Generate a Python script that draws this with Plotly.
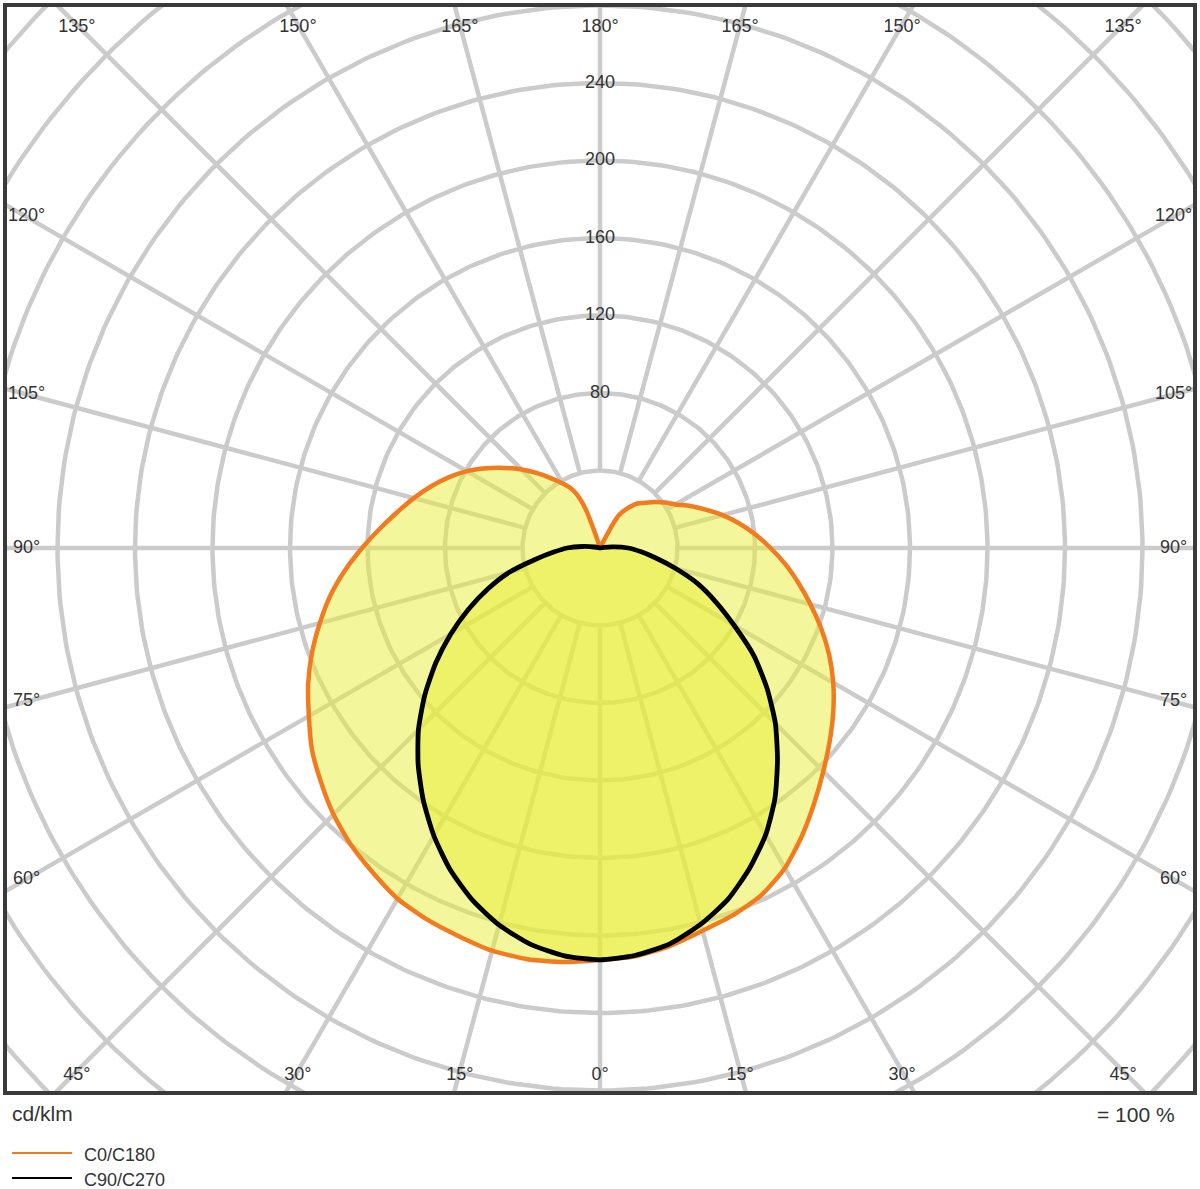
import numpy as np
import plotly.graph_objects as go

# ---------------- data (cd/klm) ----------------
# C0/C180 plane : left half (C180) and right half (C0), gamma measured from nadir
c180_ang = [0, 5, 10, 15, 20, 25, 30, 35, 40, 45, 50, 55, 60, 65, 70, 75, 80, 85, 90,
            95, 100, 105, 110, 115, 120, 125, 130, 135, 140, 145, 150, 155, 158, 160,
            161.5, 163, 170, 180]
c180_val = [212.6, 214.5, 215.5, 215.2, 213.2, 211.5, 209.0, 204.5, 200.0, 194.5, 188.0,
            181.5, 173.5, 166.2, 158.2, 149.7, 141.3, 132.1, 122.8, 114.1, 106.3, 99.5,
            92.9, 86.2, 79.3, 71.7, 64.3, 57.3, 50.4, 43.9, 38.4, 33.0, 27.0, 20.0, 8.0,
            1.0, 0.0, 0.0]
c0_ang = [0, 5, 10, 15, 20, 25, 30, 35, 40, 45, 50, 55, 60, 65, 70, 75, 80, 85, 90,
          95, 100, 105, 110, 115, 120, 125, 130, 135, 140, 145, 148, 150, 151.5, 153,
          155, 180]
c0_val = [212.6, 211.5, 208.5, 204.5, 201.5, 197.5, 190.8, 181.6, 172.0, 163.0, 154.8,
          147.0, 139.0, 130.5, 121.5, 112.5, 104.0, 96.0, 88.0, 80.5, 73.0, 65.5, 58.0,
          51.3, 45.0, 41.0, 37.0, 33.0, 30.0, 25.2, 22.0, 19.7, 15.0, 4.0, 0.0, 0.0]

# C90/C270 plane : left half (C270) and right half (C90)
c270_ang = [0, 5, 10, 15, 20, 25, 30, 35, 40, 45, 50, 55, 60, 65, 70, 75, 80, 85, 90,
            95, 100, 105, 180]
c270_val = [212.6, 211.3, 207.6, 201.4, 193.1, 183.1, 171.5, 159.0, 146.0, 132.5, 118.0,
            103.5, 89.0, 75.0, 61.5, 48.5, 34.0, 24.0, 17.0, 9.0, 3.0, 0.0, 0.0]
c90_ang = [0, 5, 10, 15, 20, 25, 30, 35, 40, 45, 50, 55, 60, 65, 70, 75, 80, 85, 90,
           95, 100, 105, 180]
c90_val = [212.6, 211.0, 207.5, 201.0, 193.0, 182.5, 171.0, 157.5, 142.5, 128.0, 112.5,
           97.0, 80.0, 66.0, 53.5, 40.0, 29.0, 21.0, 14.5, 7.0, 2.0, 0.0, 0.0]

ring_values = [40, 80, 120, 160, 200, 240, 280, 320, 360, 400]
ring_labels = [80, 120, 160, 200, 240]
spoke_step = 15
angle_ticks = [0, 15, 30, 45, 60, 75, 90, 105, 120, 135, 150, 165, 180]

series_names = ["C0/C180", "C90/C270"]
unit_text = "cd/klm"
scale_text = "= 100 %"

# ---------------- helpers ----------------
def to_xy(left_ang, left_val, right_ang, right_val):
    la = np.radians(left_ang)
    ra = np.radians(right_ang)[::-1]
    lv = np.asarray(left_val)
    rv = np.asarray(right_val)[::-1]
    x = np.concatenate([-lv * np.sin(la), rv * np.sin(ra)])
    y = np.concatenate([-lv * np.cos(la), -rv * np.cos(ra)])
    return x, y

GRID = "#cbcbcb"
FILL = "rgba(231,237,55,0.5)"
ORANGE = "#f27a1f"
TXT = "#333333"
FONT = "Liberation Sans, Arial, Helvetica, sans-serif"
LBL = 18

fig = go.Figure()

# rings
t = np.radians(np.arange(0, 361, 1))
rx, ry = [], []
for r in ring_values:
    rx += list(r * np.sin(t)) + [None]
    ry += list(r * np.cos(t)) + [None]
fig.add_trace(go.Scatter(x=rx, y=ry, mode="lines", line=dict(color=GRID, width=4.5),
                         hoverinfo="skip", showlegend=False))
# spokes
sx, sy = [], []
for a in range(0, 360, spoke_step):
    ar = np.radians(a)
    sx += [ring_values[0] * np.sin(ar), 450 * np.sin(ar), None]
    sy += [ring_values[0] * np.cos(ar), 450 * np.cos(ar), None]
fig.add_trace(go.Scatter(x=sx, y=sy, mode="lines", line=dict(color=GRID, width=4.5),
                         hoverinfo="skip", showlegend=False))

# curves
ox, oy = to_xy(c180_ang, c180_val, c0_ang, c0_val)
bx, by = to_xy(c270_ang, c270_val, c90_ang, c90_val)
fig.add_trace(go.Scatter(x=ox, y=oy, mode="lines", fill="toself", fillcolor=FILL,
                         line=dict(width=0, shape="spline", smoothing=0.6),
                         hoverinfo="skip", showlegend=False))
fig.add_trace(go.Scatter(x=bx, y=by, mode="lines", fill="toself", fillcolor=FILL,
                         line=dict(width=0, shape="spline", smoothing=0.6),
                         hoverinfo="skip", showlegend=False))
fig.add_trace(go.Scatter(x=ox, y=oy, mode="lines", name=series_names[0],
                         line=dict(color=ORANGE, width=4.5, shape="spline", smoothing=0.6),
                         showlegend=False))
fig.add_trace(go.Scatter(x=bx, y=by, mode="lines", name=series_names[1],
                         line=dict(color="#000000", width=4.8, shape="spline", smoothing=0.6),
                         showlegend=False))

# radial labels
fig.add_trace(go.Scatter(x=[0] * len(ring_labels), y=ring_labels, mode="text",
                         text=[str(v) for v in ring_labels],
                         textfont=dict(family=FONT, size=LBL, color=TXT),
                         hoverinfo="skip", showlegend=False))

# angle labels
lx, ly, lt = [], [], []
for g in angle_ticks:
    for side in (-1, 1):
        if g in (0, 180) and side == 1:
            continue
        if g <= 45:
            x = side * 270 * np.tan(np.radians(g)); y = -272
        elif g >= 135:
            x = side * 270 * np.tan(np.radians(180 - g)); y = 268.5
        else:
            x = side * 296; y = -296 * np.tan(np.radians(90 - g))
        lx.append(x); ly.append(y); lt.append(f"{g}°")
fig.add_trace(go.Scatter(x=lx, y=ly, mode="text", text=lt,
                         textfont=dict(family=FONT, size=LBL, color=TXT),
                         hoverinfo="skip", showlegend=False))

W, H = 1200, 1189
ml, mr, mt, mb = 5, 5, 5, 96
pw, ph = W - ml - mr, H - mt - mb
s = 1.9375
fig.update_xaxes(range=[-(pw / 2) / s, (pw / 2) / s], visible=False, fixedrange=True)
fig.update_yaxes(range=[-(ph - 543) / s, 543 / s], visible=False, fixedrange=True)

def px_x(p):
    return (p - ml) / pw

def px_y(p):
    return (H - mb - p) / ph

shapes = [dict(type="rect", xref="paper", yref="paper", x0=0, y0=0, x1=1, y1=1,
               line=dict(color="#3a3a3a", width=4))]
shapes.append(dict(type="line", xref="paper", yref="paper", x0=px_x(12), x1=px_x(72),
                   y0=px_y(1153), y1=px_y(1153), line=dict(color=ORANGE, width=2)))
shapes.append(dict(type="line", xref="paper", yref="paper", x0=px_x(12), x1=px_x(72),
                   y0=px_y(1178), y1=px_y(1178), line=dict(color="#000000", width=2)))

annotations = [
    dict(xref="paper", yref="paper", x=px_x(10), y=px_y(1113), text=unit_text,
         showarrow=False, xanchor="left", yanchor="middle",
         font=dict(family=FONT, size=21, color=TXT)),
    dict(xref="paper", yref="paper", x=px_x(1177), y=px_y(1114), text=scale_text,
         showarrow=False, xanchor="right", yanchor="middle",
         font=dict(family=FONT, size=21, color=TXT)),
    dict(xref="paper", yref="paper", x=px_x(82), y=px_y(1155), text=series_names[0],
         showarrow=False, xanchor="left", yanchor="middle",
         font=dict(family=FONT, size=18, color=TXT)),
    dict(xref="paper", yref="paper", x=px_x(82), y=px_y(1180), text=series_names[1],
         showarrow=False, xanchor="left", yanchor="middle",
         font=dict(family=FONT, size=18, color=TXT)),
]

fig.update_layout(width=W, height=H, margin=dict(l=ml, r=mr, t=mt, b=mb),
                  paper_bgcolor="white", plot_bgcolor="white",
                  shapes=shapes, annotations=annotations, showlegend=False)

fig.write_html("out.html", config={"displayModeBar": False},
               post_script="document.body.style.margin='0';document.body.style.overflow='hidden';")
